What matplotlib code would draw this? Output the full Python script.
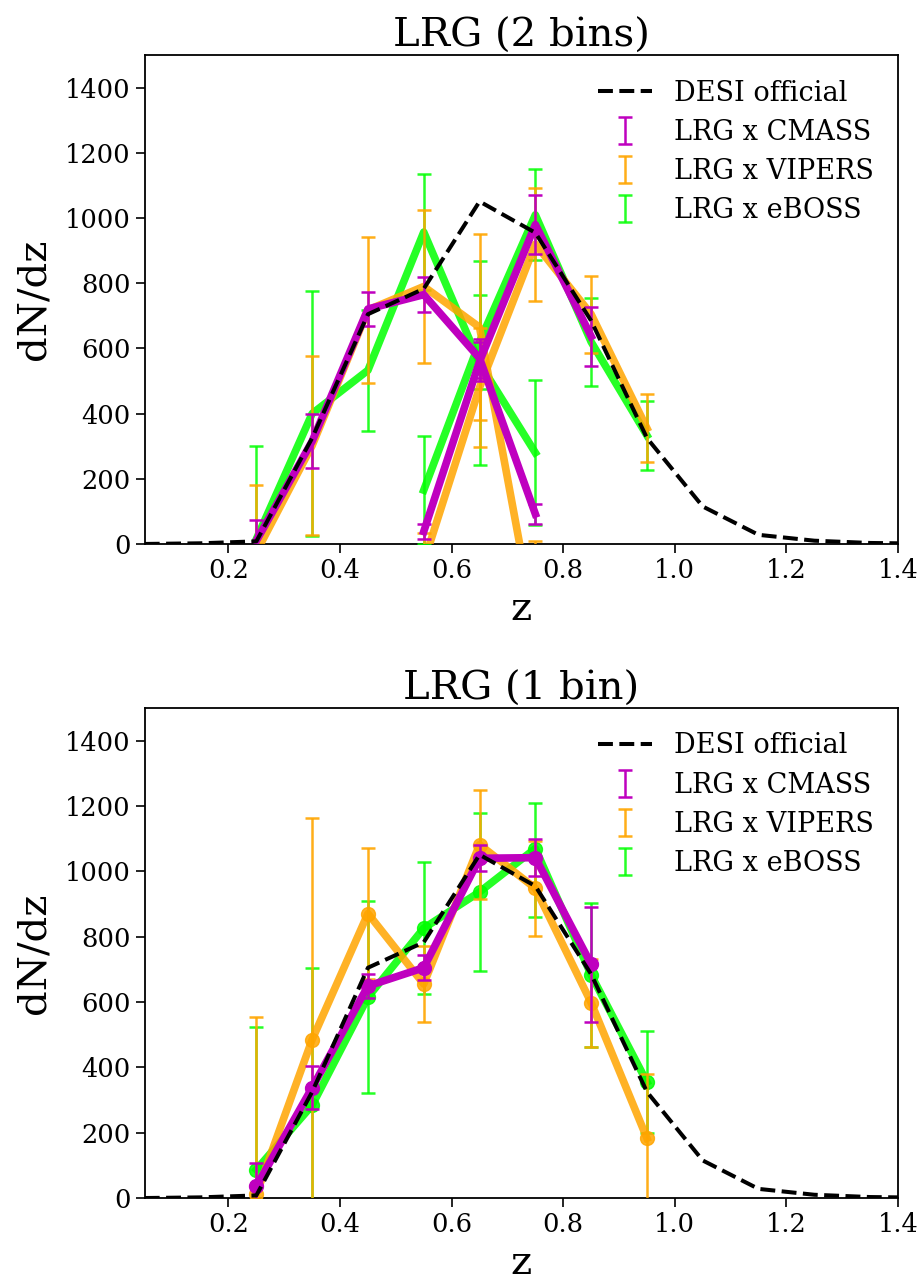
import matplotlib
matplotlib.use("Agg")
import matplotlib.pyplot as plt
import numpy as np

plt.rcParams["font.family"] = ["DejaVu Serif"]

# ---- DESI official n(z) ----
z_desi = [0.05, 0.15, 0.25, 0.35, 0.45, 0.55, 0.65, 0.75, 0.85, 0.95, 1.05, 1.15, 1.25, 1.35, 1.45]
n_desi = [0, 2, 8, 325, 705, 783, 1051, 955, 685, 325, 115, 28, 10, 3, 1]

# ---- 2-bin clustering redshifts ----
z_b1 = [0.25, 0.35, 0.45, 0.55, 0.65, 0.75]
z_b2_cmass = [0.55, 0.65, 0.75, 0.85]
z_b2 = [0.55, 0.65, 0.75, 0.85, 0.95]

cmass_b1 = [10, 315, 721, 765, 570, 92]
cmass_b1_err = [63, 83, 52, 54, 60, 32]
cmass_b2 = [38, 560, 980, 637]
cmass_b2_err = [23, 60, 90, 90]

vipers_b1 = [-25, 302, 718, 790, 665, -260]
vipers_b1_err = [205, 275, 225, 235, 286, 270]
vipers_b2 = [-57, 480, 920, 705, 355]
vipers_b2_err = [90, 182, 173, 118, 105]

eboss_b1 = [15, 400, 533, 957, 555, 280]
eboss_b1_err = [285, 376, 186, 178, 313, 222]
eboss_b2 = [165, 620, 1010, 620, 333]
eboss_b2_err = [166, 143, 140, 136, 106]

# ---- 1-bin clustering redshifts ----
z_1_cmass = [0.25, 0.35, 0.45, 0.55, 0.65, 0.75, 0.85]
z_1 = [0.25, 0.35, 0.45, 0.55, 0.65, 0.75, 0.85, 0.95]

cmass_1 = [36, 338, 649, 705, 1040, 1042, 716]
cmass_1_err = [70, 66, 38, 39, 40, 56, 176]

vipers_1 = [12, 485, 871, 655, 1082, 948, 598, 183]
vipers_1_err = [543, 677, 200, 116, 166, 145, 135, 197]

eboss_1 = [87, 284, 615, 826, 937, 1070, 683, 355]
eboss_1_err_lo = [437, 419, 295, 202, 242, 210, 220, 157]
eboss_1_err_hi = [437, 419, 295, 202, 242, 140, 220, 157]

C_CMASS = "m"
C_VIPERS = "orange"
C_EBOSS = "lime"

fig = plt.figure(figsize=(9.22, 12.82), dpi=100)
ax1 = fig.add_axes([0.157, 0.5757, 0.817, 0.3813])
ax2 = fig.add_axes([0.157, 0.0655, 0.817, 0.3822])

LW = 5.5
EB = dict(fmt="none", elinewidth=1.8, capsize=5, capthick=1.8)


def desi(ax):
    ax.plot(z_desi, n_desi, "k--", lw=2.9, zorder=10, label="DESI official")


# top panel: two tomographic bins
desi(ax1)
ax1.errorbar(z_b1, cmass_b1, yerr=cmass_b1_err, color=C_CMASS, zorder=6, label="LRG x CMASS", **EB)
ax1.errorbar(z_b2_cmass, cmass_b2, yerr=cmass_b2_err, color=C_CMASS, zorder=6, **EB)
ax1.errorbar(z_b1, vipers_b1, yerr=vipers_b1_err, color=C_VIPERS, alpha=0.9, zorder=4, label="LRG x VIPERS", **EB)
ax1.errorbar(z_b2, vipers_b2, yerr=vipers_b2_err, color=C_VIPERS, alpha=0.9, zorder=4, **EB)
ax1.errorbar(z_b1, eboss_b1, yerr=eboss_b1_err, color=C_EBOSS, alpha=0.85, zorder=3, label="LRG x eBOSS", **EB)
ax1.errorbar(z_b2, eboss_b2, yerr=eboss_b2_err, color=C_EBOSS, alpha=0.85, zorder=3, **EB)

ax1.plot(z_b1, eboss_b1, color=C_EBOSS, lw=LW, alpha=0.85, zorder=3)
ax1.plot(z_b2, eboss_b2, color=C_EBOSS, lw=LW, alpha=0.85, zorder=3)
ax1.plot(z_b1, vipers_b1, color=C_VIPERS, lw=LW, alpha=0.85, zorder=4)
ax1.plot(z_b2, vipers_b2, color=C_VIPERS, lw=LW, alpha=0.85, zorder=4)
ax1.plot(z_b1, cmass_b1, color=C_CMASS, lw=LW, zorder=5)
ax1.plot(z_b2_cmass, cmass_b2, color=C_CMASS, lw=LW, zorder=5)
ax1.set_title("LRG (2 bins)", fontsize=29)

# bottom panel: single bin
desi(ax2)
ax2.errorbar(z_1_cmass, cmass_1, yerr=cmass_1_err, color=C_CMASS, zorder=6, label="LRG x CMASS", **EB)
ax2.errorbar(z_1, vipers_1, yerr=vipers_1_err, color=C_VIPERS, alpha=0.9, zorder=4, label="LRG x VIPERS", **EB)
ax2.errorbar(z_1, eboss_1, yerr=[eboss_1_err_lo, eboss_1_err_hi], color=C_EBOSS, alpha=0.85, zorder=3,
             label="LRG x eBOSS", **EB)
ax2.plot(z_1, eboss_1, "o-", color=C_EBOSS, lw=LW, ms=10, alpha=0.85, zorder=3)
ax2.plot(z_1, vipers_1, "o-", color=C_VIPERS, lw=LW, ms=10, alpha=0.85, zorder=4)
ax2.plot(z_1_cmass, cmass_1, "o-", color=C_CMASS, lw=LW, ms=10, zorder=5)
ax2.set_title("LRG (1 bin)", fontsize=29)

for ax in (ax1, ax2):
    ax.set_xlim(0.05, 1.4)
    ax.set_ylim(0, 1500)
    ax.set_xticks([0.2, 0.4, 0.6, 0.8, 1.0, 1.2, 1.4])
    ax.set_yticks([0, 200, 400, 600, 800, 1000, 1200, 1400])
    ax.tick_params(labelsize=18.5, length=6.5, width=1.2)
    for s in ax.spines.values():
        s.set_linewidth(1.3)
    ax.set_xlabel("z", fontsize=29, labelpad=6)
    ax.set_ylabel("dN/dz", fontsize=29, labelpad=9)
    ax.legend(loc="upper right", frameon=False, fontsize=19.5, labelspacing=0.45)

fig.savefig("out.png", dpi=100)
